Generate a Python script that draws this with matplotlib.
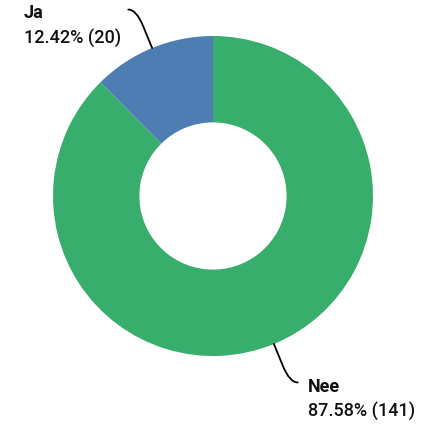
import numpy as np
import matplotlib.pyplot as plt
from matplotlib.path import Path
from matplotlib.patches import PathPatch

# --- data ---
labels = ["Ja", "Nee"]
counts = [20, 141]
percent_labels = ["12.42% (20)", "87.58% (141)"]
colors = ["#4E7DB4", "#37AE6B"]

plt.rcParams["font.family"] = ["Roboto", "DejaVu Sans"]

fig = plt.figure(figsize=(4.27, 4.26), dpi=100)
ax = fig.add_axes([0, 0, 1, 1])

wedges, _ = ax.pie(counts, colors=colors, startangle=90, counterclock=True,
                   radius=1.0, wedgeprops=dict(width=0.54, linewidth=0))

# pie resets the limits, so set them afterwards
ax.set_xlim(-213 / 160, 214 / 160)
ax.set_ylim(-230 / 160, 196 / 160)
ax.set_aspect("equal")
ax.axis("off")

# --- leader lines + labels ---
text_pos = {"Ja": (-1.181, 1.1125, 0.95), "Nee": (0.594, -1.225, -1.381)}
for w, lab, pct in zip(wedges, labels, percent_labels):
    mid = np.deg2rad((w.theta1 + w.theta2) / 2)
    d = np.array([np.cos(mid), np.sin(mid)])
    p0 = d * 1.0
    p1 = d * 1.15
    ctrl = d * 1.26
    side = np.sign(d[0])
    end = ctrl + np.array([side * 0.05, 0])
    path = Path([p0, p1, ctrl, end],
                [Path.MOVETO, Path.LINETO, Path.CURVE3, Path.CURVE3])
    ax.add_patch(PathPatch(path, fill=False, lw=1.3, color="black",
                           capstyle="round"))
    x, y1, y2 = text_pos[lab]
    ax.text(x, y1, lab, fontsize=13, fontweight="bold", ha="left",
            va="baseline", color="#111111")
    ax.text(x, y2, pct, fontsize=13, fontweight="medium", ha="left",
            va="baseline", color="#111111")

fig.savefig("out.png", dpi=100)
